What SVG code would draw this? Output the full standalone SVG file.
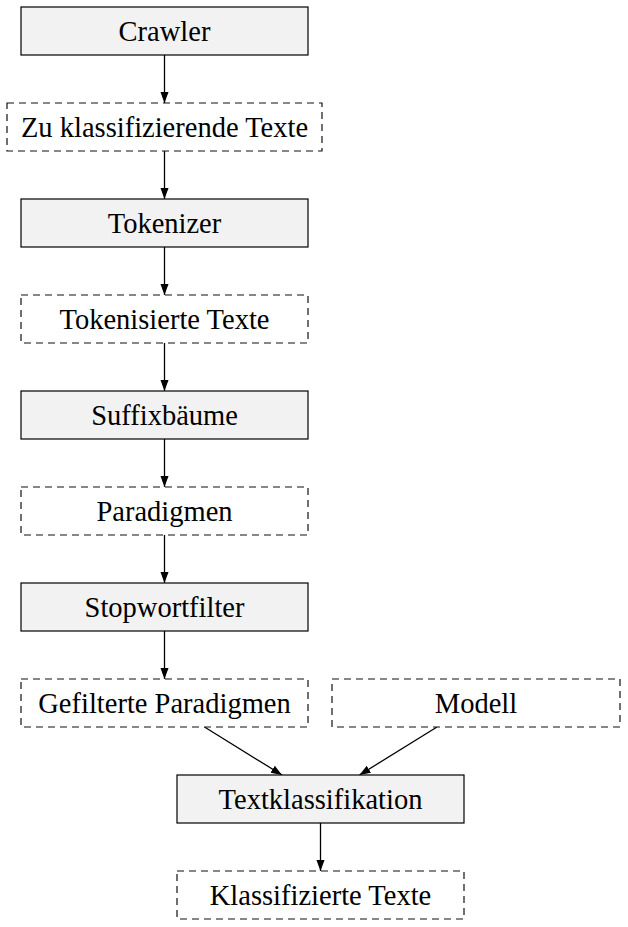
<svg xmlns="http://www.w3.org/2000/svg" width="628" height="927" viewBox="0 0 628 927">
<style>
.solid{fill:#f2f2f2;stroke:#000;stroke-width:1.2}
.dash{fill:#fff;stroke:#111;stroke-width:1.2;stroke-dasharray:7,5}
text{font-family:"Liberation Serif","Times New Roman",serif;font-size:28.5px;fill:#000;text-anchor:middle}
.edge{stroke:#000;stroke-width:1.3;fill:none;marker-end:url(#ah)}
</style>
<defs>
<marker id="ah" viewBox="0 0 10 10" refX="10" refY="5" markerWidth="11" markerHeight="11" markerUnits="userSpaceOnUse" orient="auto">
<path d="M0,1.3 L10,5 L0,8.7 Z" fill="#000"/>
</marker>
</defs>
<rect width="628" height="927" fill="#fff"/>
<g id="connectors">
<line class="edge" x1="164.5" y1="55" x2="164.5" y2="103"/>
<line class="edge" x1="164.5" y1="151" x2="164.5" y2="199"/>
<line class="edge" x1="164.5" y1="247" x2="164.5" y2="295"/>
<line class="edge" x1="164.5" y1="343" x2="164.5" y2="391"/>
<line class="edge" x1="164.5" y1="439" x2="164.5" y2="487"/>
<line class="edge" x1="164.5" y1="535" x2="164.5" y2="583"/>
<line class="edge" x1="164.5" y1="631" x2="164.5" y2="679"/>
<line class="edge" x1="204.5" y1="727" x2="282" y2="775"/>
<line class="edge" x1="437" y1="727" x2="359.5" y2="775"/>
<line class="edge" x1="320.5" y1="823" x2="320.5" y2="871"/>
</g>
<g id="crawler"><rect class="solid" x="21" y="7" width="287" height="48"/><text x="164.5" y="41">Crawler</text></g>
<g id="zu-klassifizierende-texte"><rect class="dash" x="7" y="103" width="315" height="48"/><text x="164.5" y="137">Zu klassifizierende Texte</text></g>
<g id="tokenizer"><rect class="solid" x="21" y="199" width="287" height="48"/><text x="164.5" y="233">Tokenizer</text></g>
<g id="tokenisierte-texte"><rect class="dash" x="21" y="295" width="287" height="48"/><text x="164.5" y="329">Tokenisierte Texte</text></g>
<g id="suffixbaeume"><rect class="solid" x="21" y="391" width="287" height="48"/><text x="164.5" y="425">Suffixbäume</text></g>
<g id="paradigmen"><rect class="dash" x="21" y="487" width="287" height="48"/><text x="164.5" y="521">Paradigmen</text></g>
<g id="stopwortfilter"><rect class="solid" x="21" y="583" width="287" height="48"/><text x="164.5" y="617">Stopwortfilter</text></g>
<g id="gefilterte-paradigmen"><rect class="dash" x="21" y="679" width="287" height="48"/><text x="164.5" y="713">Gefilterte Paradigmen</text></g>
<g id="modell"><rect class="dash" x="332" y="679" width="288" height="48"/><text x="476" y="713">Modell</text></g>
<g id="textklassifikation"><rect class="solid" x="177" y="775" width="287" height="48"/><text x="320.5" y="809">Textklassifikation</text></g>
<g id="klassifizierte-texte"><rect class="dash" x="177" y="871" width="287" height="48"/><text x="320.5" y="905">Klassifizierte Texte</text></g>
</svg>
